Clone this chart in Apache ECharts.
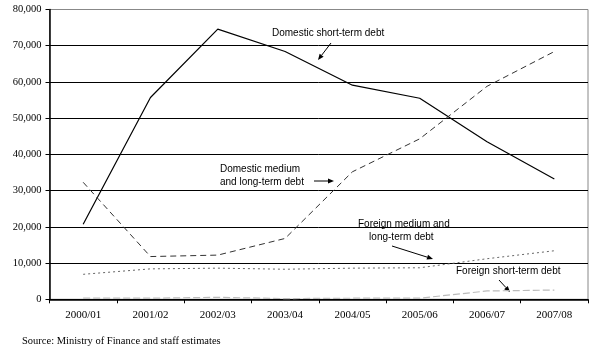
<!DOCTYPE html>
<html>
<head>
<meta charset="utf-8">
<script src="https://cdn.jsdelivr.net/npm/echarts@6/dist/echarts.min.js"></script>
<style>
  html, body { margin: 0; padding: 0; background: #fff; }
  #chart { width: 591px; height: 350px; }
</style>
</head>
<body>
<div id="chart"></div>
<script>
// Fiscal years on the horizontal axis
const years = ['2000/01', '2001/02', '2002/03', '2003/04', '2004/05', '2005/06', '2006/07', '2007/08'];

// Outstanding debt by type
const domesticShort = [20700, 55700, 74600, 68400, 59100, 55500, 43500, 33200];
const domesticMediumLong = [32300, 11800, 12200, 16800, 35200, 44300, 58800, 68400];
const foreignMediumLong = [6900, 8400, 8600, 8300, 8600, 8700, 11200, 13400];
const foreignShort = [300, 300, 550, 200, 300, 300, 2300, 2550];

// Value axis ticks
const yTicks = [0, 10000, 20000, 30000, 40000, 50000, 60000, 70000, 80000];

const chart = echarts.init(document.getElementById('chart'), null, { renderer: 'canvas' });

const serif = '"Liberation Serif", "Times New Roman", serif';
const sans = '"Liberation Sans", Arial, sans-serif';

function lineSeries(name, data, color, type, width) {
  return {
    name: name,
    type: 'line',
    data: data,
    symbol: 'none',
    animation: false,
    lineStyle: { color: color, type: type, width: width }
  };
}

// Annotation text and arrows
function label(x, y, text, align) {
  return {
    type: 'text', left: x, top: y,
    style: { text: text, font: '10px ' + sans, fill: '#000', textAlign: align || 'left', lineHeight: 13 }
  };
}
function arrow(x1, y1, x2, y2) {
  const ang = Math.atan2(y2 - y1, x2 - x1);
  const L = 6, W = 2.5;
  const bx = x2 - L * Math.cos(ang), by = y2 - L * Math.sin(ang);
  const px = -Math.sin(ang) * W, py = Math.cos(ang) * W;
  return [
    { type: 'line', shape: { x1: x1, y1: y1, x2: bx, y2: by }, style: { stroke: '#000', lineWidth: 1 } },
    { type: 'polygon', shape: { points: [[x2, y2], [bx + px, by + py], [bx - px, by - py]] }, style: { fill: '#000' } }
  ];
}

const graphics = [
  label(272, 27, 'Domestic short-term debt'),
  ...arrow(331, 43, 318, 60),
  label(220, 163, 'Domestic medium\nand long-term debt'),
  ...arrow(314, 181, 334, 181),
  label(358, 218, 'Foreign medium and\n    long-term debt'),
  ...arrow(392, 246, 433, 259),
  label(456, 265, 'Foreign short-term debt'),
  ...arrow(499, 280, 510, 292),
  {
    type: 'text', left: 22, top: 336,
    style: { text: 'Source: Ministry of Finance and staff estimates', font: '10.5px ' + serif, fill: '#000' }
  }
];

const gridColors = yTicks.map((v, i) => (i === yTicks.length - 1 ? '#888' : '#000'));

chart.setOption({
  backgroundColor: '#fff',
  animation: false,
  grid: { left: 49.5, right: 3, top: 9.5, bottom: 50.7, show: true, borderColor: '#888', borderWidth: 1 },
  xAxis: {
    type: 'category',
    data: years,
    boundaryGap: true,
    axisLine: { lineStyle: { color: '#000', width: 1.5 } },
    axisTick: { show: true, length: 4, lineStyle: { color: '#000' } },
    axisLabel: { color: '#000', margin: 10, fontFamily: serif, fontSize: 11 },
    splitLine: { show: false }
  },
  yAxis: {
    type: 'value',
    min: yTicks[0],
    max: yTicks[yTicks.length - 1],
    interval: 10000,
    axisLine: { show: true, lineStyle: { color: '#000', width: 1.5 } },
    axisTick: { show: true, length: 4, inside: false, lineStyle: { color: '#000' } },
    axisLabel: {
      color: '#000', fontFamily: serif, fontSize: 10.5, margin: 8,
      formatter: v => v.toLocaleString('en-US')
    },
    splitLine: { show: true, lineStyle: { color: gridColors, width: 1 } }
  },
  series: [
    lineSeries('Domestic short-term debt', domesticShort, '#000', 'solid', 1.2),
    lineSeries('Domestic medium and long-term debt', domesticMediumLong, '#333', [6, 4], 1),
    lineSeries('Foreign medium and long-term debt', foreignMediumLong, '#666', [2, 3], 1),
    lineSeries('Foreign short-term debt', foreignShort, '#bbb', [7, 3], 1.2)
  ],
  graphic: graphics
});
</script>
</body>
</html>
